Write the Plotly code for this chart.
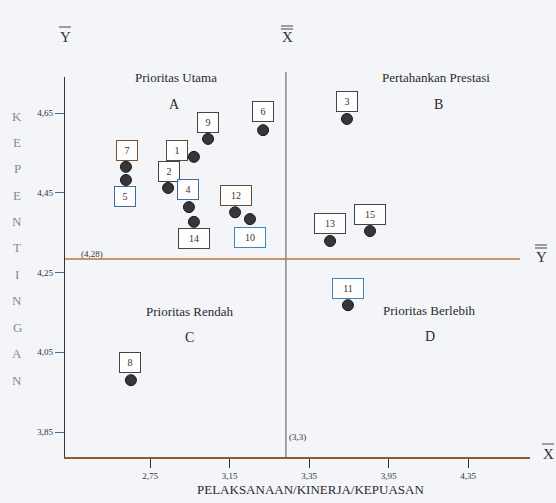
import plotly.graph_objects as go

# ---------------- data ----------------
labels = ["1", "2", "3", "4", "5", "6", "7", "8", "9", "10", "11", "12", "13", "14", "15"]
kinerja = [2.971, 2.841, 3.741, 2.946, 2.629, 3.319, 2.629, 2.654, 3.042, 3.253, 3.746, 3.178, 3.656, 2.971, 3.857]
kepentingan = [4.540, 4.462, 4.635, 4.414, 4.482, 4.607, 4.515, 3.980, 4.585, 4.384, 4.168, 4.401, 4.329, 4.377, 4.354]

x_tickvals = [2.75, 3.15, 3.55, 3.95, 4.35]
x_ticktext = ["2,75", "3,15", "3,35", "3,95", "4,35"]
y_tickvals = [3.85, 4.05, 4.25, 4.45, 4.65]
y_ticktext = ["3,85", "4,05", "4,25", "4,45", "4,65"]

x_mean_pos = 3.434      # where the X-double-bar line is drawn
x_mean_label = "(3,3)"
y_mean = 4.284
y_mean_label = "(4,28)"

# label box offsets (pixels) relative to each dot
box_dx = [-17, 1, 0, -1, -1, 0, 1, -1, 0, 0, 0, 1, 0, 0, 0]
box_dy = [6, 16, 17, 18, -17, 19, 16, 18, 16, -18, 17, 17, 18, -17, 17]
box_color = ["#5a4a3a", "#444", "#444", "#3b6f99", "#3b6f99", "#444", "#7a5030",
             "#444", "#444", "#3b87b8", "#3b87b8", "#6a4a30", "#444", "#444", "#444"]

SERIF = "Liberation Serif, Times New Roman, serif"
W, H = 556, 503
L, R, T, B = 65, 26, 77, 46
pw, ph = W - L - R, H - T - B


def xp(px):
    return (px - L) / pw


def yp(py):
    return (H - B - py) / ph


fig = go.Figure()
fig.add_trace(go.Scatter(
    x=kinerja, y=kepentingan, mode="markers",
    marker=dict(size=11, color="#36363a", line=dict(color="#1a1a1c", width=1)),
    hoverinfo="text", text=labels, showlegend=False,
))

ann = []
for i, lab in enumerate(labels):
    ann.append(dict(
        x=kinerja[i], y=kepentingan[i], xref="x", yref="y", text=lab, showarrow=False,
        xanchor="center", yanchor="middle",
        xshift=box_dx[i], yshift=box_dy[i],
        width=20 if len(lab) == 1 else 30, height=19,
        bordercolor=box_color[i], borderwidth=1, borderpad=0, bgcolor="rgba(255,255,255,0.85)",
        font=dict(family=SERIF, size=10, color="#333"),
    ))


def ptext(txt, px, py, size, color="#2a2a2a"):
    ann.append(dict(x=xp(px), y=yp(py), xref="paper", yref="paper", text=txt, showarrow=False,
                    xanchor="center", yanchor="middle",
                    font=dict(family=SERIF, size=size, color=color)))


# quadrant titles
ptext("Prioritas Utama", 176, 77, 13)
ptext("A", 174, 104, 14)
ptext("Pertahankan Prestasi", 436, 77, 13)
ptext("B", 438, 104, 14)
ptext("Prioritas Rendah", 190, 311, 13)
ptext("C", 189, 337, 14)
ptext("Prioritas Berlebih", 429, 310, 13)
ptext("D", 430, 336, 14)

# mean labels
ptext(y_mean_label, 92, 254, 9, "#333")
ptext(x_mean_label, 297, 437, 9, "#333")

# axis symbols
for txt, px, py in [("Y", 65, 37), ("X", 287, 37), ("Y", 541, 257), ("X", 548, 454)]:
    ptext(txt, px, py, 15, "#333")

# x-axis title
ptext("PELAKSANAAN/KINERJA/KEPUASAN", 310, 489, 13)

# vertical letters of y title
word = "KEPENTINGAN"
for k, ch in enumerate(word):
    ptext(ch, 17, 116 + k * 26.4, 13, "#8a8a8a")

shapes = []
# mean lines
shapes.append(dict(type="line", xref="x", yref="paper", x0=x_mean_pos, x1=x_mean_pos,
                   y0=0, y1=yp(72), line=dict(color="#555", width=1)))
shapes.append(dict(type="line", xref="paper", yref="y", x0=0, x1=xp(520),
                   y0=y_mean, y1=y_mean, line=dict(color="#b9782e", width=1.5)))


# bars over symbols
def bar(x0, x1, y):
    shapes.append(dict(type="line", xref="paper", yref="paper", x0=xp(x0), x1=xp(x1),
                       y0=yp(y), y1=yp(y), line=dict(color="#444", width=1)))


bar(59, 71, 27)
bar(281, 293, 26)
bar(281, 293, 29)
bar(535, 547, 245)
bar(535, 547, 248)
bar(542, 554, 444)

fig.update_layout(
    width=W, height=H,
    margin=dict(l=L, r=R, t=T, b=B, pad=0),
    paper_bgcolor="#f4f5f8", plot_bgcolor="#f4f5f8",
    annotations=ann, shapes=shapes,
    xaxis=dict(range=[2.75 + (L - 150) / 198.75, 2.75 + (W - R - 150) / 198.75],
               tickvals=x_tickvals, ticktext=x_ticktext, ticks="outside", ticklen=9,
               tickcolor="#333", showline=True, linecolor="#8a5a3a", linewidth=1.5,
               showgrid=False, zeroline=False, automargin=False,
               tickfont=dict(family=SERIF, size=9, color="#333")),
    yaxis=dict(range=[4.65 - (H - B - 113) / 398.75, 4.65 + (113 - T) / 398.75],
               tickvals=y_tickvals, ticktext=y_ticktext, ticks="outside", ticklen=9,
               tickcolor="#3b6f99", showline=True, linecolor="#333", linewidth=1.2,
               showgrid=False, zeroline=False, automargin=False,
               tickfont=dict(family=SERIF, size=9, color="#333")),
)

fig.write_html(
    "out.html",
    config={"displayModeBar": False},
    post_script="document.body.style.margin='0';document.body.style.overflow='hidden';"
                "document.documentElement.style.overflow='hidden';",
)
